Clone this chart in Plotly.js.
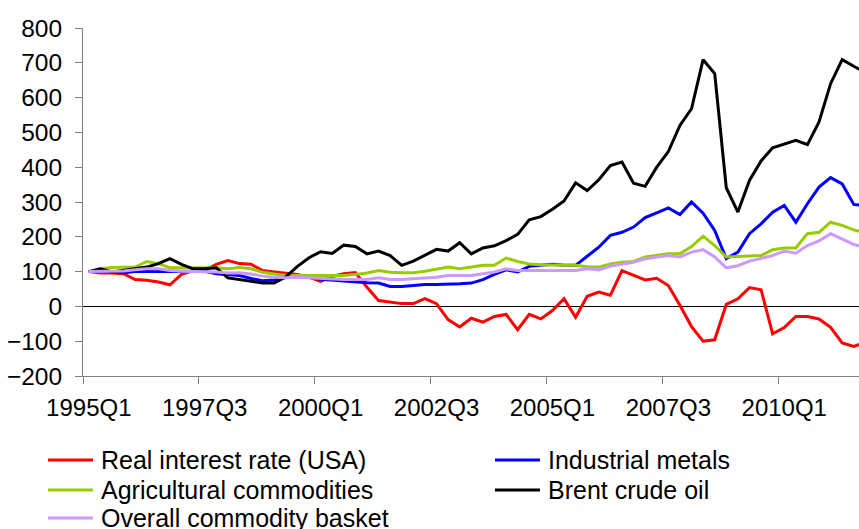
<!DOCTYPE html>
<html>
<head>
<meta charset="utf-8">
<script src="https://cdn.plot.ly/plotly-3.0.1.min.js"></script>
<style>
html,body{margin:0;padding:0;background:#fff;}
#chart{width:859px;height:529px;}
</style>
</head>
<body>
<div id="chart"></div>
<script>
var quarters = [
"1995Q1","1995Q2","1995Q3","1995Q4","1996Q1","1996Q2","1996Q3","1996Q4",
"1997Q1","1997Q2","1997Q3","1997Q4","1998Q1","1998Q2","1998Q3","1998Q4",
"1999Q1","1999Q2","1999Q3","1999Q4","2000Q1","2000Q2","2000Q3","2000Q4",
"2001Q1","2001Q2","2001Q3","2001Q4","2002Q1","2002Q2","2002Q3","2002Q4",
"2003Q1","2003Q2","2003Q3","2003Q4","2004Q1","2004Q2","2004Q3","2004Q4",
"2005Q1","2005Q2","2005Q3","2005Q4","2006Q1","2006Q2","2006Q3","2006Q4",
"2007Q1","2007Q2","2007Q3","2007Q4","2008Q1","2008Q2","2008Q3","2008Q4",
"2009Q1","2009Q2","2009Q3","2009Q4","2010Q1","2010Q2","2010Q3","2010Q4",
"2011Q1","2011Q2","2011Q3","2011Q4"];

var realInterestRate = [100,96,96,94,77,75,70,62,92,103,103,121,132,123,121,103,99,96,92,84,72,86,94,97,55,17,12,8,8,22,8,-38,-59,-34,-45,-29,-23,-67,-23,-36,-12,22,-31,29,41,32,103,89,76,81,60,3,-58,-100,-96,6,22,54,48,-79,-61,-29,-29,-36,-60,-105,-115,-103];

var industrialMetals = [100,100,100,97,100,100,100,100,100,101,101,94,91,89,80,74,76,83,86,84,78,75,72,70,68,67,57,57,60,63,63,63,65,67,77,92,105,99,115,118,121,118,118,144,170,204,213,228,255,269,283,264,300,268,218,137,156,209,237,271,290,242,295,343,370,352,293,290];

var agricultural = [100,108,112,113,113,129,123,111,111,113,113,111,108,112,108,98,93,89,89,89,87,88,89,92,96,103,98,97,97,101,108,113,108,113,118,118,139,129,122,120,118,118,118,114,113,122,127,129,142,146,151,151,172,202,175,142,144,146,146,163,168,168,209,213,242,233,220,212];

var brentCrude = [100,108,99,103,108,113,123,137,121,108,108,111,82,77,72,67,67,85,115,140,157,152,176,172,151,159,146,118,130,148,164,159,183,151,168,174,189,207,249,258,279,303,355,333,364,405,415,354,345,400,445,520,568,709,669,341,271,362,418,456,467,477,465,530,640,709,690,672];

var overallBasket = [100,100,101,102,105,108,108,103,101,101,101,99,96,97,93,87,84,82,84,82,81,78,77,77,77,82,77,77,79,82,84,89,89,89,94,99,108,103,103,103,103,103,103,108,105,116,122,127,137,142,146,142,156,163,142,111,117,130,137,146,159,153,175,188,209,194,178,170];

var seriesNames = ["Real interest rate (USA)","Industrial metals","Agricultural commodities","Brent crude oil","Overall commodity basket"];
var seriesData = [realInterestRate, industrialMetals, agricultural, brentCrude, overallBasket];
var seriesColors = ["#FF0000","#0000FF","#99CC00","#000000","#CC99FF"];

var traces = seriesData.map(function(d, k){
  return {
    x: quarters, y: d, name: seriesNames[k], type: 'scatter', mode: 'lines',
    line: {color: seriesColors[k], width: 3}, showlegend: false
  };
});

// Legend drawn as real text + line samples (two columns, Excel style)
var W = 859, H = 529, ML = 83, MT = 28, MB = 153;
var PW = W - ML, PH = H - MT - MB;
function px2x(p){ return (p - ML) / PW; }
function py2y(p){ return (H - MB - p) / PH; }
var legCols = [48, 495];          // start of line sample per column (px)
var legRows = [460, 490, 518];    // row centre (px)
var shapes = [], annotations = [];
seriesNames.forEach(function(nm, k){
  var c = k % 2, r = Math.floor(k / 2);
  var x0 = legCols[c], yc = legRows[r];
  shapes.push({type: 'line', xref: 'paper', yref: 'paper',
    x0: px2x(x0), x1: px2x(x0 + 45), y0: py2y(yc), y1: py2y(yc),
    line: {color: seriesColors[k], width: 3}});
  annotations.push({xref: 'paper', yref: 'paper', x: px2x(x0 + 51), y: py2y(yc),
    xanchor: 'left', yanchor: 'middle', showarrow: false, text: nm,
    font: {size: 25, color: '#000'}});
});

var layout = {
  width: W, height: H,
  margin: {l: ML, r: 0, t: MT, b: MB},
  paper_bgcolor: '#ffffff', plot_bgcolor: '#ffffff',
  font: {family: 'Liberation Sans, Arial, sans-serif', size: 24, color: '#000'},
  showlegend: false,
  xaxis: {
    type: 'category',
    range: [-0.5, 66.45],
    tickmode: 'linear', tick0: 0, dtick: 10,
    tickson: 'boundaries',
    tickangle: 0,
    ticks: 'outside', ticklen: 7, tickcolor: '#808080', tickwidth: 1,
    showline: true, linecolor: '#808080', linewidth: 1,
    showgrid: false, zeroline: false,
    tickfont: {size: 24, color: '#000'},
    ticklabelstandoff: 10
  },
  yaxis: {
    range: [-200, 800], dtick: 100, tick0: 0,
    ticks: 'outside', ticklen: 7, tickcolor: '#808080', tickwidth: 1,
    showline: true, linecolor: '#808080', linewidth: 1,
    showgrid: false,
    zeroline: true, zerolinecolor: '#000000', zerolinewidth: 1.5,
    tickfont: {size: 24.5, color: '#000'},
    ticklabelstandoff: 8
  },
  shapes: shapes,
  annotations: annotations
};

Plotly.newPlot('chart', traces, layout, {displayModeBar: false, staticPlot: true});
</script>
</body>
</html>
